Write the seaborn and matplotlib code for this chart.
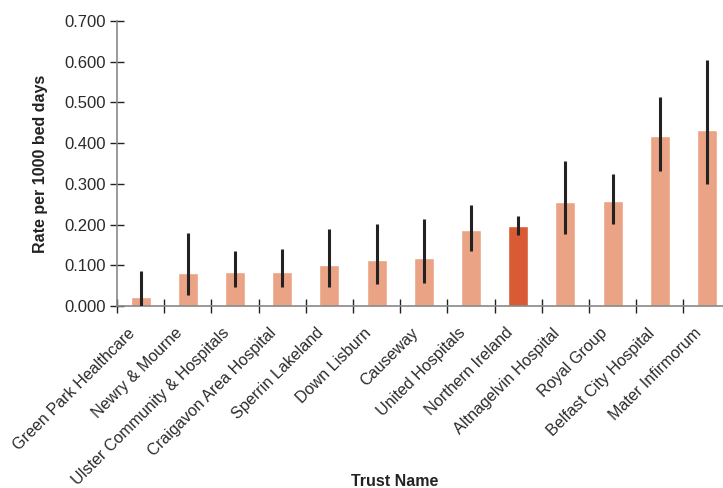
import matplotlib
matplotlib.use("Agg")
import matplotlib.pyplot as plt
import seaborn as sns
import pandas as pd
import numpy as np

trusts = ["Green Park Healthcare", "Newry & Mourne", "Ulster Community & Hospitals",
          "Craigavon Area Hospital", "Sperrin Lakeland", "Down Lisburn", "Causeway",
          "United Hospitals", "Northern Ireland", "Altnagelvin Hospital", "Royal Group",
          "Belfast City Hospital", "Mater Infirmorum"]
rates = [0.023, 0.082, 0.084, 0.084, 0.101, 0.113, 0.119, 0.187, 0.197, 0.256, 0.258, 0.418, 0.432]
ci_low = [0.000, 0.027, 0.046, 0.046, 0.047, 0.054, 0.057, 0.134, 0.174, 0.176, 0.202, 0.332, 0.299]
ci_high = [0.087, 0.179, 0.135, 0.141, 0.190, 0.202, 0.214, 0.249, 0.220, 0.356, 0.324, 0.514, 0.604]
group = ["Trust"] * 8 + ["Northern Ireland"] + ["Trust"] * 4
yticks = [0.0, 0.1, 0.2, 0.3, 0.4, 0.5, 0.6, 0.7]

df = pd.DataFrame({"Trust Name": trusts, "Rate": rates, "Group": group})

sns.set_style("white")
plt.rcParams["font.family"] = ["Liberation Sans", "DejaVu Sans"]

fig = plt.figure(figsize=(7.23, 4.88), dpi=100)
ax = fig.add_axes([117 / 723, 1 - 306 / 488, (730.6 - 117) / 723, (306 - 21) / 488])

sns.barplot(data=df, x="Trust Name", y="Rate", hue="Group",
            palette={"Trust": "#EAA385", "Northern Ireland": "#D95B35"},
            saturation=1, width=0.42, dodge=False, legend=False, errorbar=None, ax=ax)

xpos = np.arange(len(trusts))
ax.vlines(xpos, ci_low, ci_high, color="#222222", linewidth=2.2, zorder=5)

ax.set_xlim(-0.5, len(trusts) - 0.5)
ax.set_ylim(0, 0.7)
ax.set_yticks(yticks)
ax.set_yticklabels([f"{v:.3f}" for v in yticks], fontsize=12, color="#2a2a2a")

ax.set_xticks(xpos - 0.1)
ax.set_xticklabels(trusts, rotation=45, ha="right", va="baseline", rotation_mode="anchor",
                   fontsize=11.6, color="#2a2a2a")
ax.set_xticks(np.arange(-0.5, len(trusts) - 0.5, 1.0), minor=True)
ax.tick_params(axis="x", which="major", bottom=True, length=0, pad=20)
ax.tick_params(axis="x", which="minor", bottom=True, length=10, width=1,
               direction="inout", color="#222222")
ax.tick_params(axis="y", which="major", left=True, length=10, width=1,
               direction="inout", color="#222222", pad=3)

for s in ["top", "right"]:
    ax.spines[s].set_visible(False)
for s in ["left", "bottom"]:
    ax.spines[s].set_color("#888888")
    ax.spines[s].set_linewidth(1.2)

ax.set_xlabel("Trust Name", fontsize=11.5, fontweight="bold", color="#222222")
ax.set_ylabel("Rate per 1000 bed days", fontsize=11.5, fontweight="bold", color="#222222", labelpad=12)
ax.xaxis.set_label_coords((395 - 117) / (730.6 - 117), -(474 - 306) / 285)

fig.savefig("out.png", dpi=100)
